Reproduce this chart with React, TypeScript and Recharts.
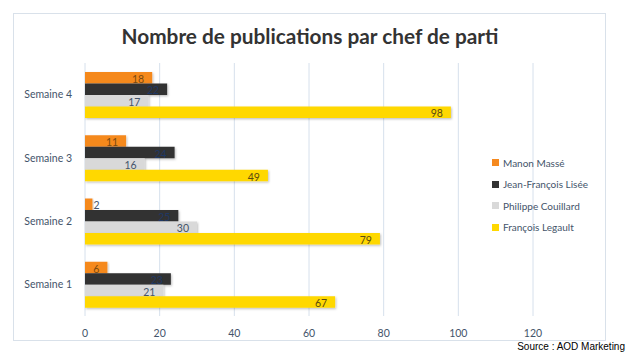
import { BarChart, Bar, XAxis, YAxis, CartesianGrid, LabelList } from 'recharts';

const weeks = ['Semaine 4', 'Semaine 3', 'Semaine 2', 'Semaine 1'];
const masse = [18, 11, 2, 6];
const lisee = [22, 24, 25, 23];
const couillard = [17, 16, 30, 21];
const legault = [98, 49, 79, 67];
const xTicks = [0, 20, 40, 60, 80, 100, 120];

const series = [
  { key: 'masse', name: 'Manon Massé', color: '#F5891F', labelColor: '#7a4a10' },
  { key: 'lisee', name: 'Jean-François Lisée', color: '#333333', labelColor: '#1f3864' },
  { key: 'couillard', name: 'Philippe Couillard', color: '#D9D9D9', labelColor: '#44546a' },
  { key: 'legault', name: 'François Legault', color: '#FFD800', labelColor: '#5a4a10' },
];

const data = weeks.map((w, i) => ({
  week: w,
  masse: masse[i],
  lisee: lisee[i],
  couillard: couillard[i],
  legault: legault[i],
}));

const FONT = 'Lato, "Open Sans", sans-serif';
const TEXT = '#44546a';

const ShadowBar = (props: any) => {
  const { x, y, width, height, fill } = props;
  return <rect x={x} y={y} width={width} height={height} fill={fill} filter="url(#barShadow)" />;
};

// small bars get their label outside, like Excel's overflow
const makeLabel = (color: string) => (props: any) => {
  const { x, y, width, height, value } = props;
  const small = width < 15;
  return (
    <text
      x={small ? x + width + 1 : x + width - 8}
      y={y + height / 2 + 1}
      textAnchor={small ? 'start' : 'end'}
      dominantBaseline="central"
      fill={small ? TEXT : color}
      fontSize={10.5}
      fontFamily={FONT}
    >
      {value}
    </text>
  );
};

export default function App() {
  return (
    <div style={{ position: 'absolute', left: 0, top: 0, width: 630, height: 354, background: '#fff', fontFamily: FONT }}>
      <div style={{ position: 'absolute', left: 13, top: 13, width: 591, height: 326, border: '1px solid #d9e1ea' }} />
      <div style={{ position: 'absolute', left: 0, width: 620, top: 23, textAlign: 'center', fontSize: 20.8, fontWeight: 700, color: '#333' }}>
        Nombre de publications par chef de parti
      </div>
      <div style={{ position: 'absolute', left: 0, top: 0 }}>
        <BarChart
          width={630}
          height={354}
          data={data}
          layout="vertical"
          margin={{ top: 63, right: 97, bottom: 18, left: 15 }}
          barGap={0}
          barSize={11.5}
        >
          <defs>
            <filter id="barShadow" x="-5%" y="-20%" width="115%" height="160%">
              <feDropShadow dx={1} dy={1.2} stdDeviation={0.8} floodColor="#000" floodOpacity={0.25} />
            </filter>
          </defs>
          <CartesianGrid horizontal={false} stroke="#d6e0ec" strokeWidth={1} />
          <XAxis
            type="number"
            domain={[0, 120]}
            ticks={xTicks}
            axisLine={false}
            tickLine={false}
            tick={{ fill: TEXT, fontSize: 10.5, fontFamily: FONT }}
            height={20}
            tickMargin={8}
          />
          <YAxis
            type="category"
            dataKey="week"
            axisLine={false}
            tickLine={false}
            tickSize={0}
            tickMargin={13}
            width={70}
            tick={{ fill: TEXT, fontSize: 10.5, fontFamily: FONT }}
          />
          {series.map((s) => (
            <Bar key={s.key} dataKey={s.key} name={s.name} fill={s.color} isAnimationActive={false} shape={ShadowBar}>
              <LabelList dataKey={s.key} content={makeLabel(s.labelColor)} />
            </Bar>
          ))}
        </BarChart>
      </div>
      <div style={{ position: 'absolute', left: 492, top: 152 }}>
        {series.map((s) => (
          <div key={s.key} style={{ display: 'flex', alignItems: 'center', height: 21.5, fontSize: 10, color: TEXT }}>
            <span style={{ width: 7, height: 7, background: s.color, marginRight: 4, display: 'inline-block' }} />
            {s.name}
          </div>
        ))}
      </div>
      <div style={{ position: 'absolute', right: 5, top: 341, fontSize: 10, fontFamily: 'Arial, "Liberation Sans", sans-serif', color: '#000' }}>
        Source : AOD Marketing
      </div>
    </div>
  );
}
